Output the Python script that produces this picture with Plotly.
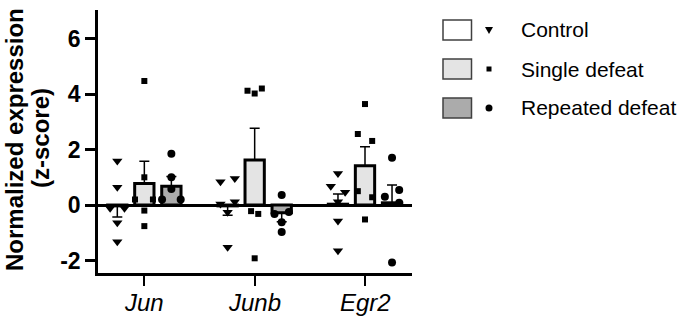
import plotly.graph_objects as go

# ---------------- data ----------------
genes = ["Jun", "Junb", "Egr2"]
groups = ["Control", "Single defeat", "Repeated defeat"]
y_ticks = [-2, 0, 2, 4, 6]
y_tick_labels = ["-2", "0", "2", "4", "6"]

control_mean = [-0.03, -0.03, 0.03]
single_mean = [0.78, 1.62, 1.42]
repeated_mean = [0.68, -0.28, 0.08]

control_sem = [0.40, 0.34, 0.37]
single_sem = [0.80, 1.15, 0.68]
repeated_sem = [0.35, 0.32, 0.64]

control_pts = [
    [1.59, 0.64, -0.12, -0.12, -0.64, -1.32],
    [0.96, 0.84, 0.12, 0.04, -0.26, -1.52],
    [1.14, 0.68, 0.46, 0.12, -0.58, -1.65],
]
single_pts = [
    [4.47, 1.00, 0.20, 0.20, -0.20, -0.76],
    [4.12, 4.02, 4.20, -0.22, -0.32, -1.92],
    [3.64, 2.56, 2.31, 0.50, 0.28, -0.52],
]
repeated_pts = [
    [1.85, 1.00, 0.58, 0.20, 0.20],
    [0.36, -0.32, -0.25, -0.62, -0.97],
    [1.70, 0.54, 0.30, 0.08, -2.07],
]

# ---------------- display settings ----------------
control_jit = [
    [0, 0, -1, 1, 0, 0],
    [1, -1, 1, -1, 0, 0],
    [0, -1, 1, 0, 0, 0],
]
single_jit = [
    [0, 0, -1.3, 1.2, 0, 0],
    [-1, 0, 1, -0.5, 0.5, 0],
    [0, -1, 1, -1, 1, 0],
]
repeated_jit = [
    [0, 0, 0, -1.3, 1.3],
    [0, -1, 1, 0, 0],
    [0, 1, -1, 1, 0],
]

FONT = "Liberation Sans, Arial, Helvetica, sans-serif"
W, H = 685, 317
ML, MR, MT, MB = 98, 273, 10, 44
PW, PH = W - ML - MR, H - MT - MB

offsets = [-0.245, 0.0, 0.245]
bar_w = 0.175
jit_unit = 0.065
fills = ["#ffffff", "#e4e4e4", "#ababab"]
symbols = ["triangle-down", "square", "circle"]
msizes = [9, 6, 8]

means = [control_mean, single_mean, repeated_mean]
sems = [control_sem, single_sem, repeated_sem]
pts = [control_pts, single_pts, repeated_pts]
jits = [control_jit, single_jit, repeated_jit]

fig = go.Figure()

for g in range(3):
    xs = [i + offsets[g] for i in range(len(genes))]
    plus = [s if m >= 0 else 0 for m, s in zip(means[g], sems[g])]
    minus = [s if m < 0 else 0 for m, s in zip(means[g], sems[g])]
    fig.add_trace(go.Bar(
        x=xs, y=means[g], width=bar_w, name=groups[g],
        marker=dict(color=fills[g], line=dict(color="black", width=3)),
        error_y=dict(type="data", symmetric=False, array=plus, arrayminus=minus,
                     color="black", thickness=1.5, width=5),
        showlegend=False,
    ))

for g in range(3):
    px, py = [], []
    for i in range(len(genes)):
        for v, j in zip(pts[g][i], jits[g][i]):
            px.append(i + offsets[g] + j * jit_unit)
            py.append(v)
    fig.add_trace(go.Scatter(
        x=px, y=py, mode="markers", showlegend=False,
        marker=dict(symbol=symbols[g], size=msizes[g], color="black",
                    line=dict(width=0)),
    ))


def X(p):
    return (p - ML) / PW


def Y(p):
    return (H - MB - p) / PH


shapes = []
annotations = []
leg_y = [30, 69, 108]
for g in range(3):
    cy = leg_y[g]
    shapes.append(dict(type="rect", xref="paper", yref="paper",
                       x0=X(443), x1=X(471.5), y0=Y(cy - 10), y1=Y(cy + 10),
                       fillcolor=fills[g], line=dict(color="#404040", width=1.5)))
    annotations.append(dict(text=groups[g], xref="paper", yref="paper",
                            x=X(519), y=Y(cy), xanchor="left", yanchor="middle",
                            showarrow=False,
                            font=dict(family=FONT, size=21, color="black")))
mx = 489
# triangle-down
shapes.append(dict(type="path", xref="paper", yref="paper",
                   path=f"M {X(mx-4)} {Y(leg_y[0]-3)} L {X(mx+4)} {Y(leg_y[0]-3)} L {X(mx)} {Y(leg_y[0]+4)} Z",
                   fillcolor="black", line=dict(width=0)))
# square
shapes.append(dict(type="rect", xref="paper", yref="paper",
                   x0=X(mx - 2.5), x1=X(mx + 2.5), y0=Y(leg_y[1] - 2.5), y1=Y(leg_y[1] + 2.5),
                   fillcolor="black", line=dict(width=0)))
# circle
shapes.append(dict(type="circle", xref="paper", yref="paper",
                   x0=X(mx - 3.5), x1=X(mx + 3.5), y0=Y(leg_y[2] - 3.5), y1=Y(leg_y[2] + 3.5),
                   fillcolor="black", line=dict(width=0)))

# x tick labels (category names) placed under the ticks
for i, gname in enumerate(genes):
    annotations.append(dict(text=f"<i>{gname}</i>", xref="x", yref="paper",
                            x=i, y=Y(302), xanchor="center", yanchor="middle",
                            showarrow=False,
                            font=dict(family=FONT, size=24, color="black")))

# y-axis title (two lines)
annotations.append(dict(text="<b>Normalized expression</b>", xref="paper", yref="paper",
                        x=X(14), y=Y(140), xanchor="center", yanchor="middle",
                        textangle=-90, showarrow=False,
                        font=dict(family=FONT, size=24, color="black")))
annotations.append(dict(text="<b>(z-score)</b>", xref="paper", yref="paper",
                        x=X(40), y=Y(138), xanchor="center", yanchor="middle",
                        textangle=-90, showarrow=False,
                        font=dict(family=FONT, size=24, color="black")))

fig.update_layout(
    width=W, height=H,
    margin=dict(l=ML, r=MR, t=MT, b=MB, autoexpand=False),
    paper_bgcolor="white", plot_bgcolor="white",
    shapes=shapes, annotations=annotations,
    showlegend=False,
    xaxis=dict(range=[-0.42, 2.426], tickvals=[0, 1, 2], showticklabels=False,
               showline=True, linecolor="black", linewidth=2.5,
               ticks="outside", ticklen=10, tickwidth=2, tickcolor="black",
               showgrid=False, zeroline=False, automargin=False),
    yaxis=dict(range=[-2.45, 7.03], tickvals=y_ticks, ticktext=y_tick_labels,
               showline=True, linecolor="black", linewidth=2.5,
               ticks="outside", ticklen=10, tickwidth=2.5, tickcolor="black",
               showgrid=False, zeroline=True, zerolinecolor="black", zerolinewidth=2.5,
               automargin=False,
               tickfont=dict(family=FONT, size=23, color="black", weight="bold")),
)

fig.write_html("out.html")
